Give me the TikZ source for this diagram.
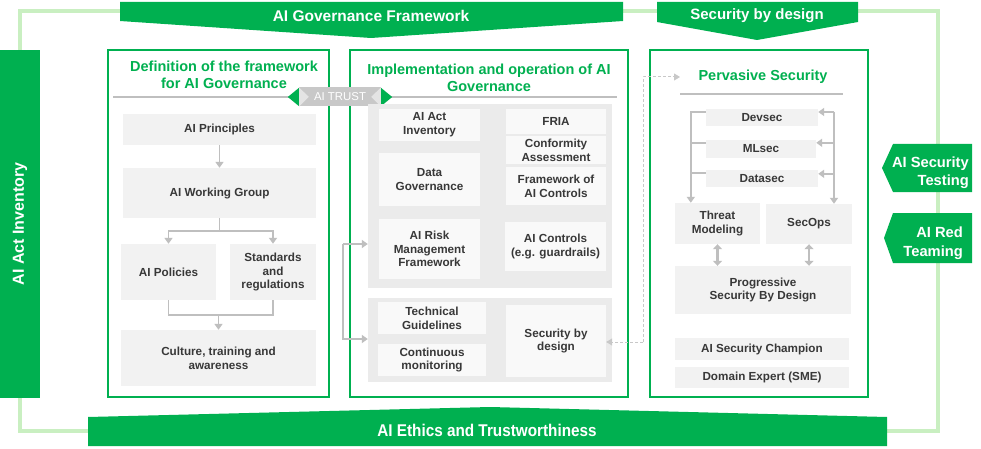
\documentclass[tikz,border=0pt]{standalone}
\usepackage{fontspec}
\setmainfont{Liberation Sans}
\newfontfamily\narrowfont[FakeStretch=0.9]{Liberation Sans}
\usetikzlibrary{arrows.meta,calc}
\definecolor{gr}{HTML}{00B050}
\definecolor{lgr}{HTML}{C9EFC1}
\definecolor{bx}{HTML}{F2F2F2}
\definecolor{bgg}{HTML}{EBEBEB}
\definecolor{wbx}{HTML}{F9F9F9}
\definecolor{ar}{HTML}{BFBFBF}
\definecolor{tx}{HTML}{383838}
\definecolor{trg}{HTML}{C8C8C8}
\definecolor{notch}{HTML}{E4E4E4}
\tikzset{
 panel/.style={draw=gr, line width=2pt, fill=white, inner sep=0pt},
 gbox/.style={fill=bx, inner sep=0pt, align=center, text=tx, font=\fontsize{11.7}{13.8}\selectfont\bfseries},
 wbox/.style={gbox, fill=wbx},
 bgbox/.style={fill=bgg, inner sep=0pt},
 ttl/.style={text=gr, align=center, font=\fontsize{14.5}{17}\selectfont\bfseries, inner sep=0pt},
 sepline/.style={draw=ar, line width=1.2pt},
 arr/.style={draw=ar, line width=1.6pt, -{Triangle[width=8pt,length=6pt]}},
 plain/.style={draw=ar, line width=1.6pt},
 darr/.style={draw=trg, line width=1pt, dash pattern=on 3pt off 2pt, -{Triangle[width=7pt,length=6pt]}},
 dbl/.style={draw=ar, line width=2.5pt, {Triangle[width=9pt,length=5pt]}-{Triangle[width=9pt,length=5pt]}},
 bandtext/.style={text=white, font=\fontsize{15.5}{18}\selectfont\bfseries, inner sep=0pt},
 badge/.style={text=white, align=right, font=\fontsize{14.7}{18.5}\selectfont\bfseries, inner sep=0pt},
 frameline/.style={draw=lgr, line width=3.5pt},
 sz/.style n args={2}{minimum width=#1pt, minimum height=#2pt},
}
\begin{document}
\begin{tikzpicture}[x=1pt,y=-1pt]
\useasboundingbox (0,0) rectangle (981,449);
% light green frame
\draw[frameline] (120,11) -- (20,11) -- (20,50);
\draw[frameline] (20,398) -- (20,431) -- (88,431);
\draw[frameline] (623,11) -- (657,11);
\draw[frameline] (858,11) -- (938,11) -- (938,431) -- (887,431);
% banners
\fill[gr] (120,2) -- (623,2) -- (623,21) -- (371,38) -- (120,21) -- cycle;
\node[bandtext] (gov) at (371,15.5) {AI Governance Framework};
\fill[gr] (657,2) -- (858,2) -- (858,22) -- (757,40) -- (657,22) -- cycle;
\node[bandtext, font=\fontsize{15}{18}\selectfont\bfseries] (sbdband) at (757,15.5) {Security by design};
\fill[gr] (88,417) -- (490,407) -- (887,417) -- (887,446) -- (88,446) -- cycle;
\node[text=white, inner sep=0pt, font=\narrowfont\fontsize{17}{20}\selectfont\bfseries] (eth) at (487,430) {AI Ethics and Trustworthiness};
% left bar
\node[fill=gr, rotate=90, minimum width=348pt, minimum height=40pt, inner sep=0pt, text=white, font=\fontsize{16}{18}\selectfont\bfseries] (inv) at (20,224) {AI Act Inventory};
% panels
\node[panel, sz={221}{347}] (p1) at (218.5,223.5) {};
\node[panel, sz={278}{347}] (p2) at (489,223.5) {};
\node[panel, sz={218}{347}] (p3) at (759,223.5) {};
% titles
\node[ttl] (t1) at (224,75) {Definition of the framework\\for AI Governance};
\node[ttl] (t2) at (489,77.5) {Implementation and operation of AI\\Governance};
\node[ttl] (t3) at (763,77) {Pervasive Security};
\draw[sepline] (113,97) -- (300,97);
\draw[sepline] (390,97) -- (617,97);
\draw[sepline] (680,94) -- (843,94);
% AI TRUST
\node[fill=trg, sz={82}{19}, inner sep=0pt, text=white, font=\fontsize{11.4}{13}\selectfont] (trust) at (340,97) {AI TRUST};
\fill[notch] (trust.north west) -- ++(10,9.5) -- (trust.south west) -- cycle;
\fill[notch] (trust.north east) -- ++(-10,9.5) -- (trust.south east) -- cycle;
\fill[gr] ($(trust.west)+(0,-9)$) -- ($(trust.west)+(-11,0)$) -- ($(trust.west)+(0,9)$) -- cycle;
\fill[gr] ($(trust.east)+(0,-9)$) -- ($(trust.east)+(11,0)$) -- ($(trust.east)+(0,9)$) -- cycle;
% panel 1 content
\node[gbox, sz={193}{31}] (prin) at (219.5,129.5) {AI Principles};
\node[gbox, sz={193}{50}] (wg) at (219.5,193) {AI Working Group};
\node[gbox, sz={95}{56}] (pol) at (168.5,272) {AI Policies};
\node[gbox, sz={86}{56}] (std) at (273,272) {Standards\\and\\regulations};
\node[gbox, sz={195}{56}] (cult) at (218.5,358) {Culture, training and\\awareness};
\draw[arr] (prin.south) -- (wg.north);
\coordinate (j0) at (219.5,231);
\draw[plain] (wg.south) -- (j0);
\draw[arr] (j0) -| (pol.north);
\draw[arr] (j0) -| (std.north);
\coordinate (j1) at (218.5,315);
\draw[plain] (pol.south) |- (j1) -| (std.south);
\draw[arr] (j1) -- (cult.north);
% panel 2 content
\node[bgbox, sz={244}{184}] (bg1) at (490,196) {};
\node[bgbox, sz={244}{84}] (bg2) at (490,340) {};
\node[wbox, sz={101}{32}] (aai) at (429.5,125) {AI Act\\Inventory};
\node[wbox, sz={101}{53}] (dgov) at (429.5,179.5) {Data\\Governance};
\node[wbox, sz={100}{25}] (fria) at (556,121.5) {FRIA};
\node[wbox, sz={100}{28}] (conf) at (556,150) {Conformity\\Assessment};
\node[wbox, sz={100}{38}] (fwk) at (556,186) {Framework of\\AI Controls};
\node[wbox, sz={101}{60}] (rmf) at (429.5,249) {AI Risk\\Management\\Framework};
\node[wbox, sz={101}{49}] (ctrl) at (555.5,246.5) {AI Controls\\(e.g. guardrails)};
\node[wbox, sz={108}{32}] (tech) at (432,318) {Technical\\Guidelines};
\node[wbox, sz={108}{32}] (cmon) at (432,360) {Continuous\\monitoring};
\node[wbox, sz={100}{72}] (sbd) at (556,341) {Security by\\design};
\coordinate (l1) at (343,244);
\coordinate (l2) at (343,339);
\draw[arr] (l1) -- (l1 -| bg1.west);
\draw[arr] (l1) -- (l2) -- (l2 -| bg2.west);
% dashed link
\coordinate (d0) at (680,77);
\coordinate (d1) at (643,77);
\coordinate (d2) at (643,342);
\draw[darr] (d2) -- (d2 -| sbd.east);
\draw[darr] (d2) -- (d1) -- (d0);
% panel 3 content
\node[gbox, sz={112}{17}] (devsec) at (762,117.5) {Devsec};
\node[gbox, sz={110}{18}] (mlsec) at (761,149) {MLsec};
\node[gbox, sz={112}{17}] (datasec) at (762,178.5) {Datasec};
\node[gbox, sz={85}{41}] (threat) at (717.5,223.5) {Threat\\Modeling};
\node[gbox, sz={86}{40}] (secops) at (809,224) {SecOps};
\node[gbox, sz={176}{48}] (psbd) at (763,290) {Progressive\\Security By Design};
\node[gbox, sz={174}{22}] (champ) at (762,349) {AI Security Champion};
\node[gbox, sz={174}{21}] (sme) at (762,377.5) {Domain Expert (SME)};
\coordinate (lb) at ($(devsec.north west)+(-15,3)$);
\draw[arr] ($(devsec.north west)+(0,3)$) -| (lb |- threat.north);
\draw[plain] ($(mlsec.north west)+(0,3)$) -- ++(-15,0);
\draw[plain] ($(datasec.north west)+(0,3)$) -- ++(-15,0);
\coordinate (rb) at (834,112);
\draw[arr] (rb) -- (rb -| devsec.east);
\draw[arr] (rb) -- (rb |- secops.north);
\draw[arr] ($(mlsec.north east)+(18,3)$) -- ++(-18,0);
\draw[arr] ($(datasec.north east)+(16,4)$) -- ++(-16,0);
\draw[dbl] (threat.south) -- (threat.south |- psbd.north);
\draw[dbl] (secops.south) -- (secops.south |- psbd.north);
% right badges
\fill[gr] (893,144) -- (972,144) -- (972,192) -- (893,192) -- (882,168) -- cycle;
\node[badge, anchor=east] (ast) at (969,172.5) {AI Security\\Testing};
\fill[gr] (893,213) -- (972,213) -- (972,263) -- (893,263) -- (884,238) -- cycle;
\node[badge, anchor=east] (art) at (963,243) {AI Red\\Teaming};
\end{tikzpicture}
\end{document}
